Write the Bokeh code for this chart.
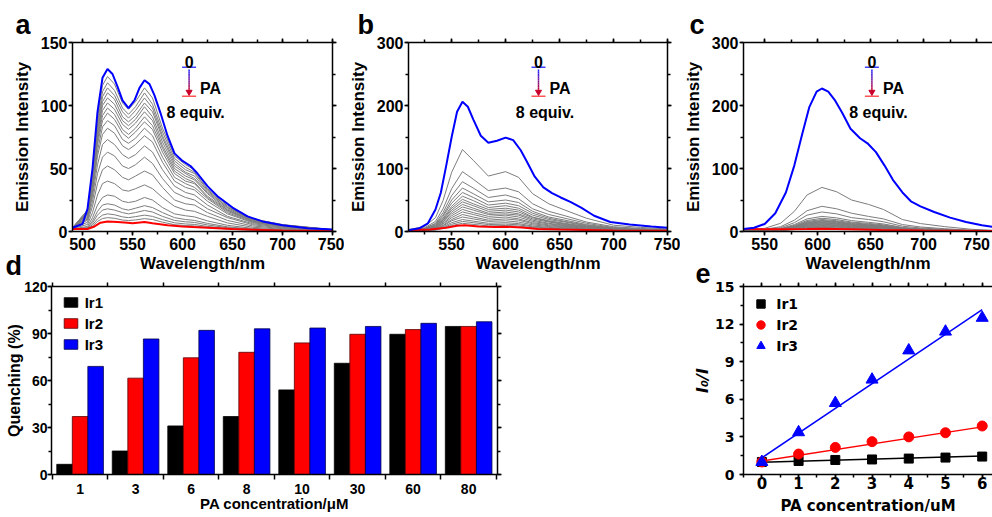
import numpy as np
from bokeh.plotting import figure
from bokeh.models import (Range1d, LinearAxis, FixedTicker, SingleIntervalTicker, Label,
                          Legend, LegendItem, Title)
from bokeh.layouts import column, row
from bokeh.embed import file_html
from bokeh.resources import INLINE

# ======================= DATA =======================
# ---- panel a (Ir1 spectra) ----
wl_a_blue = [490, 500, 505, 510, 515, 520, 525, 530, 535, 540, 546, 552, 557, 562, 567, 572, 578,
             585, 592, 600, 608, 615, 625, 635, 650, 665, 680, 700, 725, 750]
int_a_blue = [3, 6, 18, 50, 95, 122, 129, 125, 115, 104, 98, 104, 114, 120, 117, 108, 94,
              76, 62, 56, 52, 46, 36, 28, 19, 12, 8, 5, 2.5, 1.5]
wl_a_red = [490, 505, 512, 518, 525, 535, 545, 550, 555, 562, 570, 585, 600, 625, 650, 700, 750]
int_a_red = [2, 2, 4, 7, 8, 7.5, 7, 6.5, 7, 7.5, 6.5, 5, 4, 3, 2, 0.8, 0.3]
wl_a_gray = [490, 505, 510, 515, 520, 525, 532, 540, 546, 553, 562, 570, 580, 592, 603, 612, 625,
             645, 670, 700, 750]
int_a_gray = [
    [3, 17, 47, 90, 116, 123, 117, 102, 97, 103, 114, 106, 82, 60, 53, 49, 36, 21, 10, 5.5, 1.5],
    [3, 17, 45, 86, 111, 118, 112, 98, 93, 99, 110, 101, 79, 58, 51, 47, 34, 20, 10, 5.3, 1.4],
    [3, 16, 43, 83, 107, 114, 108, 95, 90, 96, 106, 98, 76, 56, 49, 46, 33, 19, 9.7, 5.1, 1.4],
    [3, 15, 42, 80, 103, 110, 105, 91, 87, 92, 102, 95, 74, 54, 47, 44, 32, 19, 9.4, 5, 1.3],
    [3, 15, 40, 77, 100, 106, 101, 88, 84, 89, 99, 91, 71, 52, 46, 42, 31, 18, 9, 4.8, 1.3],
    [3, 14, 39, 74, 96, 102, 97, 85, 81, 86, 95, 88, 68, 50, 44, 41, 30, 17, 8.7, 4.6, 1.2],
    [3, 14, 37, 72, 92, 98, 93, 81, 77, 82, 91, 84, 66, 48, 42, 39, 28, 17, 8.3, 4.4, 1.2],
    [3, 13, 36, 69, 88, 94, 89, 78, 74, 79, 87, 81, 63, 46, 40, 38, 27, 16, 8, 4.2, 1.1],
    [3, 12, 33, 64, 83, 88, 84, 73, 70, 74, 82, 76, 59, 43, 38, 35, 26, 15, 7.5, 4, 1.1],
    [3, 11, 31, 60, 77, 82, 78, 68, 65, 69, 76, 71, 55, 40, 35, 33, 24, 14, 7, 3.7, 1],
    [3, 10, 28, 53, 69, 73, 69, 61, 58, 61, 68, 63, 49, 36, 31, 29, 21, 12, 6.2, 3.3, 0.9],
    [2.5, 9, 24, 46, 59, 63, 60, 52, 50, 53, 59, 54, 42, 31, 27, 25, 18, 11, 5.4, 2.8, 0.8],
    [2.5, 7.3, 20, 38, 49, 52, 49, 43, 41, 44, 48, 45, 35, 25, 22, 21, 15, 8.8, 4.4, 2.3, 0.6],
    [2.2, 5.6, 15, 29, 38, 40, 38, 33, 32, 34, 37, 34, 27, 20, 17, 16, 12, 6.8, 3.4, 1.8, 0.5],
    [2, 4, 11, 21, 27, 29, 28, 24, 23, 24, 27, 25, 19, 14, 12.5, 11.6, 8.4, 4.9, 2.5, 1.3, 0.4],
    [2, 3, 8.4, 16, 21, 22, 21, 18, 17, 18.5, 20.5, 19, 15, 11, 9.5, 8.8, 6.4, 3.7, 1.9, 1, 0.3],
    [2, 2.8, 6.8, 13, 17, 18, 17, 15, 14, 15, 16.7, 15.5, 12, 8.8, 7.7, 7.2, 5.2, 3, 1.5, 0.8, 0.2],
    [2, 2.6, 5.3, 10, 13, 14, 13.3, 11.6, 11, 11.8, 13, 12, 9.4, 6.9, 6, 5.6, 4, 2.4, 1.2, 0.6, 0.2],
    [2, 2.5, 4.2, 8, 10.3, 11, 10.5, 9.1, 8.7, 9.2, 10.2, 9.5, 7.4, 5.4, 4.7, 4.4, 3.2, 1.9, 0.9, 0.5, 0.1],
]

# ---- panel b (Ir2 spectra) ----
wl_b_blue = [510, 520, 528, 535, 540, 545, 550, 555, 560, 565, 570, 577, 584, 592, 600, 607, 614,
             620, 627, 635, 643, 651, 660, 670, 682, 697, 715, 735, 750]
int_b_blue = [2, 5, 13, 35, 62, 105, 150, 190, 206, 198, 178, 152, 141, 144, 149, 145, 129,
              110, 87, 70, 61, 54, 47, 38, 25, 15, 11, 8, 6]
wl_b_red = [510, 530, 545, 555, 562, 575, 590, 600, 615, 630, 650, 700, 750]
int_b_red = [2, 3, 6, 9, 10, 8, 7, 7.5, 6.5, 4, 3, 1.5, 1]
wl_b_gray = [510, 525, 535, 542, 550, 560, 570, 584, 600, 612, 625, 640, 655, 675, 700, 725, 750]
int_b_gray = [
    [3, 8, 22, 49, 94, 130, 113, 88, 95, 86, 60, 44, 34, 21, 10, 6.5, 4],
    [3, 6, 16, 36, 68, 95, 83, 65, 69, 63, 44, 32, 25, 15, 7.6, 4.8, 3],
    [2.5, 5, 13, 30, 57, 79, 69, 54, 58, 52, 36, 27, 21, 13, 6.3, 4, 2.5],
    [2.5, 4.5, 12, 26, 50, 69, 60, 47, 50, 46, 32, 23, 18, 11, 5.5, 3.5, 2.2],
    [2.5, 4, 10.5, 24, 45, 62, 54, 42, 45, 41, 29, 21, 16, 10, 5, 3.1, 2],
    [2.5, 3.5, 9.5, 21, 40, 56, 49, 38, 41, 37, 26, 19, 15, 9, 4.5, 2.8, 1.8],
    [2, 3.3, 8.7, 19, 37, 51, 44, 35, 37, 34, 23, 17, 13, 8.2, 4.1, 2.6, 1.6],
    [2, 3, 8, 18, 34, 47, 41, 32, 34, 31, 22, 16, 12, 7.5, 3.8, 2.4, 1.5],
    [2, 2.8, 7.3, 16, 31, 43, 37, 29, 31, 28, 20, 15, 11, 6.9, 3.4, 2.2, 1.4],
    [2, 2.5, 6.6, 15, 28, 39, 34, 27, 28, 26, 18, 13, 10, 6.2, 3.1, 2, 1.3],
    [2, 2.3, 6, 13, 25, 35, 30, 24, 26, 23, 16, 12, 9, 5.6, 2.8, 1.8, 1.2],
    [2, 2.1, 5.3, 12, 22, 31, 27, 21, 23, 20, 14, 10.5, 8, 5, 2.5, 1.6, 1.1],
    [2, 2, 4.6, 10, 19, 27, 23, 18, 20, 18, 12.4, 9.2, 7, 4.3, 2.2, 1.4, 1],
    [2, 2, 3.9, 8.7, 17, 23, 20, 16, 17, 15, 10.6, 7.8, 6, 3.7, 1.8, 1.2, 0.9],
    [1.8, 1.9, 3.2, 7.2, 14, 19, 16.5, 13, 14, 12.5, 8.7, 6.5, 4.9, 3, 1.5, 1, 0.8],
    [1.8, 1.8, 2.7, 6, 11.5, 16, 14, 11, 11.7, 10.6, 7.4, 5.4, 4.2, 2.6, 1.3, 0.8, 0.7],
    [1.8, 1.8, 2.3, 5, 9.4, 13, 11.3, 8.8, 9.5, 8.6, 6, 4.4, 3.4, 2.1, 1, 0.7, 0.6],
]

# ---- panel c (Ir3 spectra) ----
wl_c_blue = [530, 540, 550, 560, 570, 578, 585, 592, 599, 604, 610, 616, 623, 631, 640, 647, 655,
             663, 671, 680, 688, 697, 710, 725, 740, 755, 765]
int_c_blue = [4, 6, 12, 29, 62, 105, 152, 197, 222, 227, 222, 209, 189, 163, 148, 140, 126,
              105, 82, 62, 48, 40, 31, 22, 15, 10, 7.5]
wl_c_red = [530, 560, 590, 604, 630, 660, 700, 765]
int_c_red = [4, 3.5, 4, 4.5, 3.5, 2.5, 1.5, 0.8]
wl_c_gray = [530, 550, 565, 578, 590, 604, 618, 632, 648, 662, 680, 697, 720, 745, 765]
int_c_gray = [
    [3, 5, 13, 32, 58, 70, 63, 50, 43, 35, 19, 12.6, 7.7, 3.5, 2],
    [2.5, 3.5, 7.6, 18, 33, 40, 36, 29, 24, 20, 11, 7.2, 4.4, 2, 1.2],
    [2.5, 3, 6, 14, 26, 31, 28, 22, 19, 15.5, 8.4, 5.6, 3.4, 1.6, 1],
    [2.5, 2.8, 4.6, 11, 20, 24, 21.6, 17.3, 14.6, 12, 6.5, 4.3, 2.6, 1.2, 0.8],
    [2.5, 2.6, 4, 9.7, 17.4, 21, 18.9, 15, 12.8, 10.5, 5.7, 3.8, 2.3, 1.1, 0.7],
    [2.5, 2.5, 3.6, 8.7, 15.8, 19, 17, 13.7, 11.6, 9.5, 5.1, 3.4, 2.1, 1, 0.6],
    [2.5, 2.4, 3.3, 8, 14.5, 17.5, 15.8, 12.6, 10.7, 8.8, 4.7, 3.2, 1.9, 0.9, 0.6],
    [2.5, 2.3, 3.1, 7.6, 13.7, 16.5, 14.9, 11.9, 10, 8.3, 4.5, 3, 1.8, 0.8, 0.5],
    [2.5, 2.2, 2.9, 7.1, 12.9, 15.5, 14, 11.2, 9.5, 7.8, 4.2, 2.8, 1.7, 0.8, 0.5],
    [2.5, 2.1, 2.8, 6.7, 12, 14.5, 13, 10.4, 8.8, 7.3, 3.9, 2.6, 1.6, 0.7, 0.5],
    [2.5, 2, 2.6, 6.2, 11.2, 13.5, 12.2, 9.7, 8.2, 6.8, 3.6, 2.4, 1.5, 0.7, 0.4],
    [2.5, 2, 2.4, 5.8, 10.4, 12.5, 11.3, 9, 7.6, 6.3, 3.4, 2.3, 1.4, 0.6, 0.4],
    [2.5, 1.9, 2.2, 5.3, 9.5, 11.5, 10.4, 8.3, 7, 5.8, 3.1, 2.1, 1.3, 0.6, 0.4],
    [2.5, 1.8, 2, 4.8, 8.7, 10.5, 9.5, 7.6, 6.4, 5.3, 2.8, 1.9, 1.2, 0.5, 0.3],
    [2.5, 1.8, 1.8, 4.4, 7.9, 9.5, 8.6, 6.8, 5.8, 4.8, 2.6, 1.7, 1, 0.5, 0.3],
    [2.5, 1.7, 1.6, 3.9, 7, 8.5, 7.7, 6.1, 5.2, 4.3, 2.3, 1.5, 0.9, 0.4, 0.3],
    [2.5, 1.6, 1.5, 3.5, 6.2, 7.5, 6.8, 5.4, 4.6, 3.8, 2, 1.4, 0.8, 0.4, 0.2],
    [2.5, 1.5, 1.3, 3, 5.4, 6.5, 5.9, 4.7, 4, 3.3, 1.8, 1.2, 0.7, 0.3, 0.2],
]

# ---- panel d (quenching bars) ----
conc_labels = ["1", "3", "6", "8", "10", "30", "60", "80"]
quench_ir1 = [6.5, 15, 31, 37, 54, 71, 89.5, 94.5]
quench_ir2 = [37, 61.5, 74.5, 78, 84, 89.5, 92.5, 94.5]
quench_ir3 = [69, 86.5, 92, 93, 93.5, 94.5, 96.5, 97.5]

# ---- panel e (Stern-Volmer) ----
pa_conc = [0, 1, 2, 3, 4, 5, 6]
ratio_ir1 = [1.0, 1.08, 1.16, 1.2, 1.27, 1.35, 1.43]
ratio_ir2 = [1.0, 1.63, 2.16, 2.62, 3.0, 3.33, 3.87]
ratio_ir3 = [1.0, 3.37, 5.7, 7.57, 9.9, 11.4, 12.5]
fit_x = [0, 6]
fit_ir1 = [0.98, 1.47]
fit_ir2 = [1.08, 3.8]
fit_ir3 = [1.33, 13.15]

# ======================= STYLE / LAYOUT =======================
F_ABC = "Liberation Sans"
F_D = "Liberation Sans"
F_E = "DejaVu Sans"
BLUE = "#0000ff"
RED = "#ff0000"
GRAY = "#7d7d7d"

H1, TOP1, FH1, BOT1 = 278, 42, 189, 47
OVERLAP = 40
TOP2, FH2, BOT2 = 48, 191, 40
H2 = TOP2 + FH2 + BOT2


def style_axis(ax, font, tick_px, title_px, tick_out=4, minor_out=3, labels=True,
               lab_standoff=0, title_standoff=0):
    ax.axis_line_width = 1.5
    ax.axis_line_color = "black"
    ax.major_tick_line_width = 1.5
    ax.minor_tick_line_width = 1.5
    ax.major_tick_line_color = "black"
    ax.minor_tick_line_color = "black"
    ax.major_tick_out = tick_out
    ax.major_tick_in = 0
    ax.minor_tick_out = minor_out
    ax.minor_tick_in = 0
    ax.major_label_text_font = font
    ax.major_label_text_font_style = "bold"
    ax.major_label_text_color = "black"
    ax.major_label_standoff = lab_standoff
    ax.axis_label_text_font = font
    ax.axis_label_text_font_style = "bold"
    ax.axis_label_text_color = "black"
    ax.axis_label_standoff = title_standoff
    ax.axis_label_text_font_size = title_px
    if labels:
        ax.major_label_text_font_size = tick_px
    else:
        ax.major_label_text_font_size = "0px"
        ax.major_label_text_color = None
        ax.major_label_standoff = 0


def mirror_axis(p, ticker, side, font, tick_out=4, minor_out=3):
    ax = LinearAxis(ticker=ticker)
    style_axis(ax, font, "0px", "0px", tick_out=tick_out, minor_out=minor_out, labels=False)
    p.add_layout(ax, side)
    return ax


def base_fig(width, height, xr, yr, left, right, top, bottom):
    p = figure(width=width, height=height, x_range=Range1d(*xr), y_range=Range1d(*yr),
               output_backend="svg", toolbar_location=None,
               min_border_left=left, min_border_right=right,
               min_border_top=top, min_border_bottom=bottom,
               outline_line_color=None)
    p.xgrid.visible = False
    p.ygrid.visible = False
    return p


def panel_letter(p, letter, offset, standoff):
    p.title = Title(text=letter, align="left", offset=offset, standoff=standoff,
                    text_font=F_ABC, text_font_size="27px", text_font_style="bold",
                    text_color="black")


def px_to_data(xr, yr, fw, fh, dx, dy_top):
    return (xr[0] + dx * (xr[1] - xr[0]) / fw, yr[1] - dy_top * (yr[1] - yr[0]) / fh)


def add_text(p, xr, yr, fw, fh, dx, dy_top, text, size, font, align="left", style="bold"):
    x, y = px_to_data(xr, yr, fw, fh, dx, dy_top)
    p.add_layout(Label(x=x, y=y, text=text, text_font=font, text_font_size=size,
                       text_font_style=style, text_align=align, text_baseline="alphabetic",
                       text_color="black"))


def blend(c0, c1, t):
    a = [int(c0[i:i + 2], 16) for i in (1, 3, 5)]
    b = [int(c1[i:i + 2], 16) for i in (1, 3, 5)]
    return "#%02x%02x%02x" % tuple(int(round(a[k] + (b[k] - a[k]) * t)) for k in range(3))


def pa_key(p, xr, yr, fw, fh, cx):
    X = lambda dx: px_to_data(xr, yr, fw, fh, dx, 0)[0]
    Y = lambda dy: px_to_data(xr, yr, fw, fh, 0, dy)[1]
    p.segment(x0=[X(cx - 7)], y0=[Y(24.7)], x1=[X(cx + 7)], y1=[Y(24.7)],
              line_color="#4040ff", line_width=1.5)
    p.segment(x0=[X(cx - 7)], y0=[Y(53.8)], x1=[X(cx + 7)], y1=[Y(53.8)],
              line_color="#ff5555", line_width=1.5)
    n = 12
    t = np.linspace(27, 49, n + 1)
    cols = [blend("#2020ff", "#c8002a", i / (n - 1)) for i in range(n)]
    p.segment(x0=[X(cx)] * n, y0=[Y(v) for v in t[:-1]], x1=[X(cx)] * n,
              y1=[Y(v) for v in t[1:]], line_color=cols, line_width=1.5)
    p.scatter(x=[X(cx)], y=[Y(49.5)], marker="inverted_triangle", size=6,
              fill_color="#c8002a", line_color="#c8002a")
    add_text(p, xr, yr, fw, fh, cx, 19.5, "0", "16px", F_ABC, align="center")
    add_text(p, xr, yr, fw, fh, cx + 11, 45.5, "PA", "16px", F_ABC)
    add_text(p, xr, yr, fw, fh, cx + 6.5, 69.5, "8 equiv.", "16px", F_ABC, align="center")


def spectra_panel(width, left, right, xr, yr, ystep, blue, red, gray, key_x, right_axis=True):
    fw = width - left - right
    p = base_fig(width, H1, xr, yr, left, right, TOP1, BOT1)
    wl, vals = gray
    p.multi_line(xs=[wl] * len(vals), ys=vals, line_color=GRAY, line_width=1)
    p.line(red[0], red[1], line_color=RED, line_width=2)
    p.line(blue[0], blue[1], line_color=BLUE, line_width=2)
    xt = SingleIntervalTicker(interval=50, num_minor_ticks=2)
    yt = SingleIntervalTicker(interval=ystep, num_minor_ticks=2)
    p.xaxis.ticker = xt
    p.yaxis.ticker = yt
    p.xaxis.axis_label = "Wavelength/nm"
    p.yaxis.axis_label = "Emission Intensity"
    style_axis(p.xaxis[0], F_ABC, "16px", "17px", lab_standoff=2, title_standoff=1)
    style_axis(p.yaxis[0], F_ABC, "16px", "17px", lab_standoff=1, title_standoff=6)
    mirror_axis(p, xt, "above", F_ABC)
    if right_axis:
        mirror_axis(p, yt, "right", F_ABC)
    pa_key(p, xr, yr, fw, FH1, key_x)
    return p, fw


# ---------------- panels a, b, c ----------------
xr_a, yr_a = (490, 750), (0, 150)
pa, fw_a = spectra_panel(344, 72, 12, xr_a, yr_a, 50, (wl_a_blue, int_a_blue),
                         (wl_a_red, int_a_red), (wl_a_gray, int_a_gray), 116.6)
xr_b, yr_b = (510, 750), (0, 300)
pb, fw_b = spectra_panel(336, 64, 13, xr_b, yr_b, 100, (wl_b_blue, int_b_blue),
                         (wl_b_red, int_b_red), (wl_b_gray, int_b_gray), 130)
xr_c, yr_c = (530, 765), (0, 300)
pc, fw_c = spectra_panel(312, 63, 0, xr_c, yr_c, 100, (wl_c_blue, int_c_blue),
                         (wl_c_red, int_c_red), (wl_c_gray, int_c_gray), 128.4,
                         right_axis=False)
panel_letter(pa, "a", -57, -2)
panel_letter(pb, "b", -51, -2)
panel_letter(pc, "c", -54, -2)

# ---------------- panel d ----------------
xr_d, yr_d = (0.485, 8.52), (0, 120)
pd = base_fig(688, H2, xr_d, yr_d, 51, 191, TOP2, BOT2)
pd.border_fill_color = None
gx = np.arange(1, len(conc_labels) + 1)
bw = 0.28
r1 = pd.vbar(x=gx - bw, top=quench_ir1, width=bw, fill_color="black", line_color="black",
             line_width=0.8)
r2 = pd.vbar(x=gx, top=quench_ir2, width=bw, fill_color=RED, line_color="#5a0000",
             line_width=0.8)
r3 = pd.vbar(x=gx + bw, top=quench_ir3, width=bw, fill_color=BLUE, line_color="#00004a",
             line_width=0.8)
xt_d = FixedTicker(ticks=[float(v) for v in gx],
                   minor_ticks=[float(v) - 0.5 for v in gx] + [float(gx[-1]) + 0.5])
yt_d = SingleIntervalTicker(interval=30, num_minor_ticks=2)
pd.xaxis.ticker = xt_d
pd.yaxis.ticker = yt_d
pd.xaxis.major_label_overrides = {int(v): lab for v, lab in zip(gx, conc_labels)}
pd.xaxis.axis_label = "PA concentration/μM"
pd.yaxis.axis_label = "Quenching (%)"
style_axis(pd.xaxis[0], F_D, "14px", "15px", tick_out=0, minor_out=5, lab_standoff=4,
           title_standoff=-2)
style_axis(pd.yaxis[0], F_D, "14px", "16px", lab_standoff=0, title_standoff=-2)
mirror_axis(pd, xt_d, "above", F_D, tick_out=0, minor_out=4)
mirror_axis(pd, yt_d, "right", F_D)
leg_d = Legend(items=[LegendItem(label="Ir1", renderers=[r1]),
                      LegendItem(label="Ir2", renderers=[r2]),
                      LegendItem(label="Ir3", renderers=[r3])],
               location=(10.7, 121), padding=0, margin=0, spacing=3, glyph_width=17,
               glyph_height=12, label_height=18, label_standoff=6, border_line_color=None,
               background_fill_alpha=0, label_text_font=F_D, label_text_font_size="15px",
               label_text_font_style="bold", label_text_color="black")
pd.add_layout(leg_d)
panel_letter(pd, "d", -46, 3)

# ---------------- panel e ----------------
xr_e, yr_e = (-0.5, 6.28), (0, 15)
pe = base_fig(304, H2, xr_e, yr_e, 55, 0, TOP2, BOT2)
pe.border_fill_color = None
pe.line(fit_x, fit_ir1, line_color="black", line_width=1.5)
pe.line(fit_x, fit_ir2, line_color=RED, line_width=1.5)
pe.line(fit_x, fit_ir3, line_color=BLUE, line_width=1.5)
s1 = pe.scatter(pa_conc, ratio_ir1, marker="square", size=9, color="black")
s2 = pe.scatter(pa_conc, ratio_ir2, marker="circle", size=10, color=RED)
s3 = pe.scatter(pa_conc, ratio_ir3, marker="triangle", size=12, color=BLUE)
xt_e = SingleIntervalTicker(interval=1, num_minor_ticks=2)
yt_e = SingleIntervalTicker(interval=3, num_minor_ticks=2)
pe.xaxis.ticker = xt_e
pe.yaxis.ticker = yt_e
pe.xaxis.axis_label = "PA concentration/uM"
pe.yaxis.axis_label = "I₀/I"
style_axis(pe.xaxis[0], F_E, "15px", "15px", tick_out=3, lab_standoff=-1, title_standoff=5)
style_axis(pe.yaxis[0], F_E, "14px", "16px", lab_standoff=5, title_standoff=0)
pe.yaxis[0].axis_label_text_font_style = "bold italic"
mirror_axis(pe, xt_e, "above", F_E)
leg_e = Legend(items=[LegendItem(label="Ir1", renderers=[s1]),
                      LegendItem(label="Ir2", renderers=[s2]),
                      LegendItem(label="Ir3", renderers=[s3])],
               location=(7.2, 118), padding=0, margin=0, spacing=0, glyph_width=21,
               glyph_height=21, label_height=21, label_standoff=5, border_line_color=None,
               background_fill_alpha=0, label_text_font=F_E, label_text_font_size="14px",
               label_text_font_style="bold", label_text_color="black")
pe.add_layout(leg_e)
panel_letter(pe, "e", -48, -1)

top_row = row(pa, pb, pc)
bottom_row = row(pd, pe, margin=(-OVERLAP, 0, 0, 0))
layout = column(top_row, bottom_row)
open("out.html", "w").write(file_html(layout, INLINE))
